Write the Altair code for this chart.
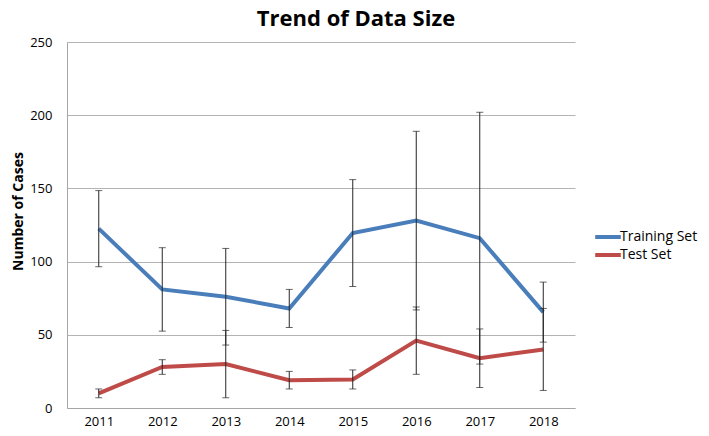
import altair as alt
import pandas as pd

years = ["2011", "2012", "2013", "2014", "2015", "2016", "2017", "2018"]
series_names = ["Training Set", "Test Set"]
train_vals = [122.5, 81, 76, 68, 119.5, 128, 116, 65.5]
train_err = [26, 28.5, 33, 13, 36.5, 61, 86, 20.5]
test_vals = [10, 28, 30, 19, 19.5, 46, 34, 40]
test_err = [3, 5, 23, 6, 6.5, 23, 20, 28]
y_ticks = [0, 50, 100, 150, 200, 250]
colors = ["#4A7EBB", "#BE4B48"]

rows = []
for name, vals, errs in [(series_names[0], train_vals, train_err),
                         (series_names[1], test_vals, test_err)]:
    for yr, v, e in zip(years, vals, errs):
        rows.append({"Year": yr, "Series": name, "Value": v,
                     "Lo": v - e, "Hi": v + e})
df = pd.DataFrame(rows)

FONT = "Open Sans"

x_enc = alt.X("Year:O", scale=alt.Scale(type="point", padding=0.5),
              sort=years,
              axis=alt.Axis(title=None, labelAngle=0, ticks=False, tickSize=0,
                            labelPadding=7, labelFontSize=13, labelColor="#000000",
                            domainColor="#a6a6a6", labelFont=FONT))
y_scale = alt.Scale(domain=[0, 250], nice=False)

base = alt.Chart(df)

lines = base.mark_line(strokeWidth=4).encode(
    x=x_enc,
    y=alt.Y("Value:Q", scale=y_scale,
            axis=alt.Axis(values=y_ticks, title="Number of Cases", ticks=False, tickSize=0,
                          labelPadding=15, labelFontSize=13, labelColor="#000000",
                          labelFont=FONT, gridColor="#b3b3b3", domainColor="#a6a6a6",
                          titleFontSize=14, titleFontWeight="bold", titleFont=FONT,
                          titleColor="#000000", titleX=-49, titleY=169,
                          titleAngle=-90, titleBaseline="middle", titleAlign="center")),
    color=alt.Color("Series:N", sort=series_names,
                    scale=alt.Scale(domain=series_names, range=colors),
                    legend=alt.Legend(title=None, orient="none", legendX=531, legendY=185,
                                      symbolType="M-1.6,0H1.6", symbolSize=256,
                                      symbolStrokeWidth=4, labelFontSize=14,
                                      labelFont=FONT, labelColor="#000000",
                                      labelOffset=2, rowPadding=0)),
    detail="Series:N",
)

rules = base.mark_rule(color="#262626", strokeWidth=1).encode(
    x=alt.X("Year:O", sort=years), y="Lo:Q", y2="Hi:Q")
ticks_hi = base.mark_tick(color="#262626", thickness=1, size=7).encode(
    x=alt.X("Year:O", sort=years), y="Hi:Q")
ticks_lo = base.mark_tick(color="#262626", thickness=1, size=7).encode(
    x=alt.X("Year:O", sort=years), y="Lo:Q")

chart = alt.layer(lines, rules, ticks_hi, ticks_lo).properties(
    width=508, height=366,
    autosize=alt.AutoSizeParams(type="none"),
    padding={"left": 59, "top": 34, "right": 126, "bottom": 22},
    title=alt.TitleParams("Trend of Data Size", fontSize=22, fontWeight="bold",
                          font=FONT, color="#000000", anchor="middle", dx=35,
                          offset=5),
).configure_view(stroke=None).configure_axis(grid=True).configure_axisX(grid=False)

chart.save("out.html", embed_options={"renderer": "svg", "actions": False})
